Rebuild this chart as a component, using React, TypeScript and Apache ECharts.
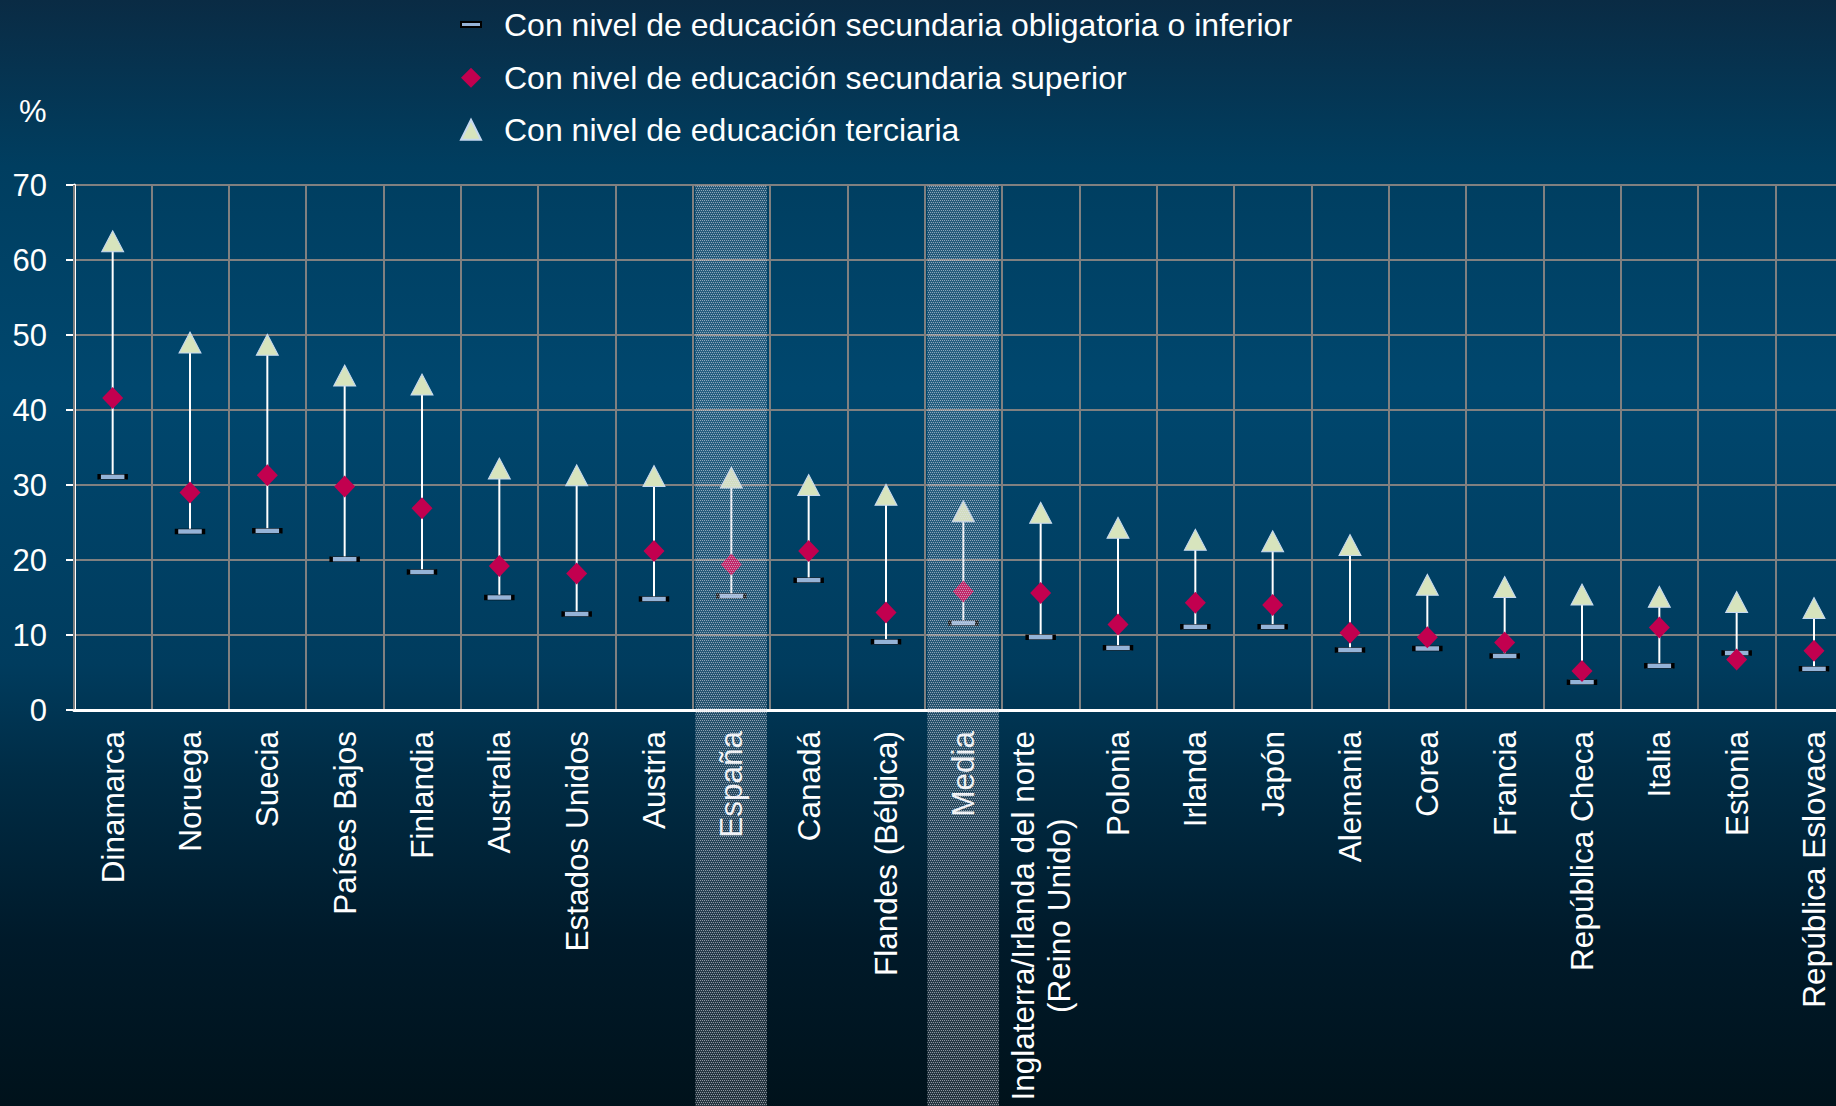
import React, { useEffect, useRef } from "react";
import * as echarts from "echarts";

const categories = [
  "Dinamarca",
  "Noruega",
  "Suecia",
  "Países Bajos",
  "Finlandia",
  "Australia",
  "Estados Unidos",
  "Austria",
  "España",
  "Canadá",
  "Flandes (Bélgica)",
  "Media",
  "Inglaterra/Irlanda del norte\n(Reino Unido)",
  "Polonia",
  "Irlanda",
  "Japón",
  "Alemania",
  "Corea",
  "Francia",
  "República Checa",
  "Italia",
  "Estonia",
  "República Eslovaca",
];

const lowerSecondary = [31.1, 23.8, 23.9, 20.1, 18.4, 15.0, 12.8, 14.8, 15.2, 17.3, 9.1, 11.6, 9.7, 8.3, 11.1, 11.1, 8.0, 8.2, 7.2, 3.7, 5.9, 7.6, 5.5];
const upperSecondary = [41.6, 29.0, 31.3, 29.8, 26.9, 19.2, 18.2, 21.2, 19.4, 21.2, 13.0, 15.8, 15.6, 11.4, 14.3, 14.0, 10.3, 9.7, 9.0, 5.2, 11.0, 6.75, 7.9];
const tertiary = [62.5, 49.0, 48.7, 44.6, 43.4, 32.2, 31.3, 31.2, 31.0, 30.0, 28.7, 26.5, 26.3, 24.3, 22.7, 22.5, 22.0, 16.7, 16.4, 15.4, 15.1, 14.4, 13.6];

const seriesNames = [
  "Con nivel de educación secundaria obligatoria o inferior",
  "Con nivel de educación secundaria superior",
  "Con nivel de educación terciaria",
];

const highlighted = ["España", "Media"];
const yTicks = { min: 0, max: 70, interval: 10 };

const W = 1836;
const H = 1106;
const PLOT_LEFT = 74;
const CAT_W = 77.333;
const CANVAS_W = Math.ceil(PLOT_LEFT + categories.length * CAT_W + 10);
const FONT = "'Liberation Sans', Arial, sans-serif";

const legendText = {
  color: "#ffffff",
  fontSize: 32,
  fontFamily: FONT,
  lineHeight: 32,
  padding: [0, 0, 0, 18],
};

function makeBandFill(): any {
  try {
    const cv = document.createElement("canvas");
    cv.width = 4;
    cv.height = 4;
    const ctx = cv.getContext("2d");
    if (!ctx) throw new Error("no ctx");
    ctx.fillStyle = "rgba(190,196,208,0.2)";
    ctx.fillRect(0, 0, 4, 4);
    ctx.fillStyle = "rgba(225,230,238,0.55)";
    for (let x = 0; x < 4; x += 2) {
      ctx.fillRect(x, 0, 1, 1);
      ctx.fillRect(x + 1, 2, 1, 1);
    }
    return { image: cv.toDataURL(), repeat: "repeat" };
  } catch (e) {
    return "rgba(200,202,212,0.3)";
  }
}

export default function App() {
  const ref = useRef<HTMLDivElement>(null);

  useEffect(() => {
    if (!ref.current) return;
    const chart = echarts.init(ref.current, undefined, { renderer: "svg" });

    const rangeData = categories.map((_, i) => {
      const vals = [lowerSecondary[i], upperSecondary[i], tertiary[i]];
      return [i, Math.min(...vals), Math.max(...vals)];
    });

    const option: any = {
      animation: false,
      backgroundColor: {
        type: "linear",
        x: 0,
        y: 0,
        x2: 0,
        y2: 1,
        colorStops: [
          { offset: 0, color: "#0a2b44" },
          { offset: 0.15, color: "#003e60" },
          { offset: 0.35, color: "#00476e" },
          { offset: 0.6, color: "#003c5e" },
          { offset: 0.7, color: "#002c45" },
          { offset: 0.85, color: "#001a2a" },
          { offset: 1, color: "#00121b" },
        ],
      },
      textStyle: { fontFamily: FONT },
      legend: [
        {
          orient: "vertical",
          left: 460,
          top: 8.5,
          padding: 0,
          itemWidth: 20,
          itemHeight: 5,
          icon: "rect",
          data: [seriesNames[0]],
          textStyle: legendText,
        },
        {
          orient: "vertical",
          left: 460,
          top: 61.7,
          padding: 0,
          itemWidth: 20,
          itemHeight: 20,
          itemGap: 20,
          data: [seriesNames[1], seriesNames[2]],
          textStyle: legendText,
        },
      ],
      grid: {
        left: PLOT_LEFT,
        top: 185,
        width: categories.length * CAT_W,
        height: 525,
        containLabel: false,
      },
      xAxis: {
        type: "category",
        data: categories,
        boundaryGap: true,
        axisLine: { show: true, lineStyle: { color: "#ffffff", width: 3 } },
        axisTick: { show: false },
        splitLine: {
          show: true,
          interval: 0,
          lineStyle: { color: "#808080", width: 2 },
        },
        axisLabel: {
          interval: 0,
          rotate: 90,
          margin: 21,
          color: "#ffffff",
          fontSize: 31.5,
          fontFamily: FONT,
          formatter: (v: string) =>
            v
              .split("\n")
              .map((s) => `{a|${s}}`)
              .join("\n"),
          rich: {
            a: {
              align: "center",
              color: "#ffffff",
              fontSize: 31.5,
              fontFamily: FONT,
              lineHeight: 36,
            },
          },
        },
        z: 5,
      },
      yAxis: {
        type: "value",
        min: yTicks.min,
        max: yTicks.max,
        interval: yTicks.interval,
        axisLine: { show: true, lineStyle: { color: "#ffffff", width: 3 } },
        axisTick: { show: true, length: 8, lineStyle: { color: "#ffffff", width: 2 } },
        splitLine: { show: true, lineStyle: { color: "#808080", width: 2 } },
        axisLabel: {
          color: "#ffffff",
          fontSize: 31,
          fontFamily: FONT,
          margin: 27,
        },
      },
      series: [
        {
          type: "custom",
          name: "rango",
          data: rangeData,
          z: 2,
          renderItem: (params: any, api: any) => {
            const p1 = api.coord([api.value(0), api.value(1)]);
            const p2 = api.coord([api.value(0), api.value(2)]);
            return {
              type: "line",
              shape: { x1: p1[0], y1: p1[1], x2: p2[0], y2: p2[1] },
              style: { stroke: "#ffffff", lineWidth: 2 },
            };
          },
        },
        {
          type: "scatter",
          name: seriesNames[0],
          data: lowerSecondary,
          symbol: "rect",
          symbolSize: [27, 5],
          itemStyle: { color: "#95b3d7", borderColor: "#000000", borderWidth: 1.5, opacity: 1 },
          z: 3,
        },
        {
          type: "scatter",
          name: seriesNames[1],
          data: upperSecondary,
          symbol: "diamond",
          symbolSize: [21, 22],
          itemStyle: { color: "#c2004f", opacity: 1 },
          z: 4,
        },
        {
          type: "scatter",
          name: seriesNames[2],
          data: tertiary,
          symbol: "triangle",
          symbolSize: [22, 21],
          itemStyle: { color: "#d7e4bd", borderColor: "#c6d9f1", borderWidth: 1, opacity: 1 },
          z: 5,
        },
      ],
    };

    chart.setOption(option);

    const c0 = chart.convertToPixel({ xAxisIndex: 0 }, categories[0]) as number;
    const c1 = chart.convertToPixel({ xAxisIndex: 0 }, categories[1]) as number;
    const step = c1 - c0;
    const yTop = chart.convertToPixel({ yAxisIndex: 0 }, yTicks.max) as number;
    const bandFill = makeBandFill();

    const bands = highlighted.map((name) => {
      const cx = chart.convertToPixel({ xAxisIndex: 0 }, name) as number;
      return {
        type: "rect",
        silent: true,
        z: 100,
        shape: { x: cx - step * 0.465, y: yTop, width: step * 0.925, height: H - yTop },
        style: { fill: bandFill },
      };
    });

    chart.setOption({
      graphic: [
        {
          type: "text",
          left: 19,
          top: 96,
          style: { text: "%", fill: "#ffffff", fontSize: 31, fontFamily: FONT },
        },
        ...bands,
      ],
    });

    return () => {
      chart.dispose();
    };
  }, []);

  return (
    <div style={{ position: "fixed", left: 0, top: 0, width: W, height: H, overflow: "hidden" }}>
      <div ref={ref} style={{ position: "absolute", left: 0, top: 0, width: CANVAS_W, height: H }} />
    </div>
  );
}
